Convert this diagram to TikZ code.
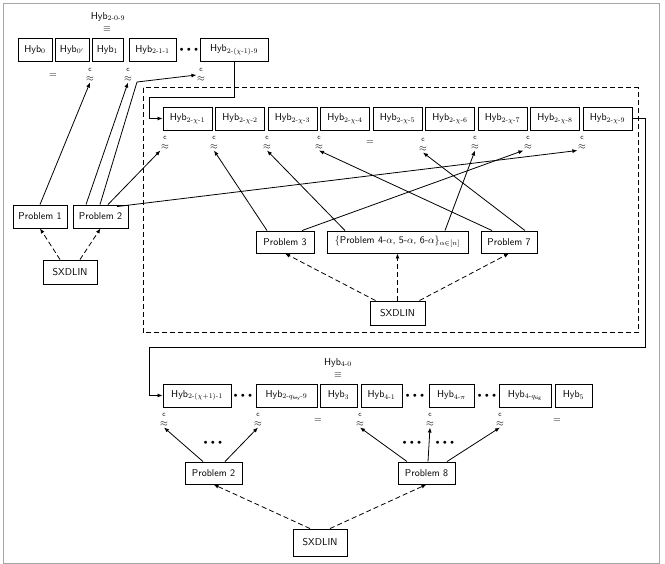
\documentclass[tikz,border=0pt]{standalone}
\usepackage{amsmath}
\usetikzlibrary{arrows.meta,calc}
\tikzset{
 hb/.style={draw, line width=0.9pt, minimum height=23pt, inner sep=1pt},
 pb/.style={draw, line width=0.9pt, minimum height=23pt, inner sep=2pt},
 ap/.style={inner sep=0.5pt},
 arr/.style={line width=0.8pt, -{Latex[length=5pt,width=4pt]}},
 darr/.style={arr, dash pattern=on 5pt off 3pt},
 dotsn/.style={inner sep=0pt}
}
\newcommand{\myHyb}[1]{Hyb$_{#1}$}
\newcommand{\hh}{\text{-}}
\newcommand{\myapx}{\shortstack{{\scriptsize c}\\[2.5pt]$\approx$}}
\newcommand{\mydots}{{\scriptsize$\bullet\,\bullet\,\bullet$}}
\begin{document}
\begin{tikzpicture}[x=1pt,y=-1pt,font=\sffamily]
\useasboundingbox (0,0) rectangle (665,564);
\draw[gray!70, line width=1pt] (3,4) rectangle (659,563);

% ---------- top row
\node[hb, minimum width=34pt] (h0) at (35,50) {\myHyb{0}};
\node[hb, minimum width=34pt] (h0p) at (72,50) {\myHyb{0'}};
\node[hb, minimum width=31pt] (h1) at (107.5,50) {\myHyb{1}};
\node[hb, minimum width=47pt] (h211) at (152.5,50) {\myHyb{2\hh1\hh1}};
\node[dotsn] (td) at (189,50) {\mydots};
\node[hb, minimum width=68pt] (hc19) at (234,50) {\myHyb{2\hh(\chi\hh1)\hh9}};
\node[inner sep=0pt] (t209) at (108,17) {\myHyb{2\hh0\hh9}};
\node[inner sep=0pt] (teq) at (107,29) {$\equiv$};

\node[ap] (te) at (53,76) {$=$};
\node[ap] (a0p) at (90,75) {\myapx};
\node[ap] (a1) at (128,75) {\myapx};
\node[ap] (aH) at (201,75) {\myapx};

% ---------- left problems
\node[pb, minimum width=54pt] (p1) at (40,216.5) {Problem 1};
\node[pb, minimum width=55pt] (p2) at (100.5,216.5) {Problem 2};
\node[pb, minimum width=54pt, minimum height=24pt] (sx1) at (70,272) {SXDLIN};

% ---------- dashed box
\draw[line width=1pt, dash pattern=on 5pt off 3pt] (143,88) rectangle (638,333);

% inner row
\foreach \k [count=\i from 0] in {1,...,9}{
  \node[hb, minimum width=49pt] (c\k) at ({187.5+52.5*\i},118.5) {\myHyb{2\hh\chi\hh\k}};
}
\node[ap] (i1) at (165,143) {\myapx};
\node[ap] (i2) at (214,143) {\myapx};
\node[ap] (i3) at (267,143) {\myapx};
\node[ap] (i4) at (319,143) {\myapx};
\node[ap] (ie) at (370,143) {$=$};
\node[ap] (i6) at (423,145) {\myapx};
\node[ap] (i7) at (475,143) {\myapx};
\node[ap] (i8) at (528,143) {\myapx};
\node[ap] (i9) at (582,143) {\myapx};

\node[pb, minimum width=58pt, minimum height=22pt] (p3) at (285,242) {Problem 3};
\node[pb, minimum width=141pt, minimum height=22pt] (p4) at (397.5,242) {$\{$Problem 4-$\alpha$, 5-$\alpha$, 6-$\alpha\}_{\alpha\in[n]}$};
\node[pb, minimum width=56pt, minimum height=22pt] (p7) at (509,242) {Problem 7};
\node[pb, minimum width=55pt, minimum height=24pt] (sx2) at (397.5,313) {SXDLIN};

% ---------- bottom row
\node[hb, minimum width=68pt] (b1) at (197,395.5) {\myHyb{2\hh(\chi+1)\hh1}};
\node[dotsn] (bd1) at (243,395.5) {\mydots};
\node[hb, minimum width=61pt] (b2) at (286.5,395.5) {\myHyb{2\hh q_{\mathsf{key}}\hh9}};
\node[hb, minimum width=37pt] (b3) at (338.5,395.5) {\myHyb{3}};
\node[hb, minimum width=41pt] (b4) at (381.5,395.5) {\myHyb{4\hh1}};
\node[dotsn] (bd2) at (415,395.5) {\mydots};
\node[hb, minimum width=45pt] (b5) at (451.5,395.5) {\myHyb{4\hh\pi}};
\node[dotsn] (bd3) at (487,395.5) {\mydots};
\node[hb, minimum width=52pt] (b6) at (525,395.5) {\myHyb{4\hh q_{\mathsf{sig}}}};
\node[hb, minimum width=37pt] (b7) at (573.5,395.5) {\myHyb{5}};
\node[inner sep=0pt] (b40) at (338,363) {\myHyb{4\hh0}};
\node[inner sep=0pt] (beq) at (338,375) {$\equiv$};

\node[ap] (j1) at (164,420) {\myapx};
\node[ap] (j2) at (258,420) {\myapx};
\node[ap] (je1) at (318,421) {$=$};
\node[ap] (j4) at (360,420) {\myapx};
\node[ap] (j5) at (430,420) {\myapx};
\node[ap] (j6) at (500,420) {\myapx};
\node[ap] (je2) at (557,421) {$=$};

\node[pb, minimum width=57pt, minimum height=22pt] (q2) at (213.5,473) {Problem 2};
\node[pb, minimum width=57pt, minimum height=22pt] (q8) at (426.5,473) {Problem 8};
\node[pb, minimum width=54pt, minimum height=27pt] (sx3) at (320,542.5) {SXDLIN};
\node[dotsn] (qd1) at (213,443) {\mydots};
\node[dotsn] (qd2) at (412,443) {\mydots};
\node[dotsn] (qd3) at (445,443) {\mydots};

% ---------- connectors top
\draw[arr] (p1.north) -- (a0p.south);
\draw[arr] ([xshift=-14.5pt]p2.north) -- (a1.south);
\coordinate (k1) at (137,82);
\draw[arr] ([xshift=-0.5pt]p2.north) -- (k1) -- (aH.west);
\draw[arr] ([xshift=7.5pt]p2.north) -- (i1.south west);
\draw[arr] ([xshift=16.5pt,yshift=-2pt]p2.north) -- (i9.south west);

\coordinate (r1) at (234,97);
\coordinate (r2) at (149,97);
\draw[arr] (hc19.south) -- (r1) -- (r2) |- (c1.west);

\coordinate (s1) at (645,118.5);
\coordinate (s2) at (645,347);
\coordinate (s3) at (149,347);
\draw[arr] (c9.east) -- (s1) -- (s2) -- (s3) |- (b1.west);

% inner problems
\draw[arr] ([xshift=-18pt]p3.north) -- (i2.south);
\draw[arr] ([xshift=17pt]p3.north) -- (i8.south west);
\draw[arr] ([xshift=-52.5pt]p4.north) -- (i3.south);
\draw[arr] ([xshift=47.5pt]p4.north) -- (i7.south);
\draw[arr] ([xshift=-17pt]p7.north) -- (i4.south);
\draw[arr] ([xshift=16pt]p7.north) -- (i6.south);

% dashed
\draw[darr] ([xshift=-10pt]sx1.north) -- (p1.south);
\draw[darr] ([xshift=10pt]sx1.north) -- (p2.south);
\draw[darr] ([xshift=-22pt]sx2.north) -- (p3.south);
\draw[darr] (sx2.north) -- (p4.south);
\draw[darr] ([xshift=22pt]sx2.north) -- (p7.south);
\draw[darr] ([xshift=-10pt]sx3.north) -- (q2.south);
\draw[darr] ([xshift=10pt]sx3.north) -- (q8.south);

% bottom arrows
\draw[arr] ([xshift=-10.5pt]q2.north) -- (j1.south);
\draw[arr] ([xshift=11.5pt]q2.north) -- (j2.south);
\draw[arr] ([xshift=-19.5pt]q8.north) -- (j4.south);
\draw[arr] ([xshift=1.5pt]q8.north) -- (j5.south);
\draw[arr] ([xshift=20.5pt]q8.north) -- (j6.south);
\end{tikzpicture}
\end{document}
